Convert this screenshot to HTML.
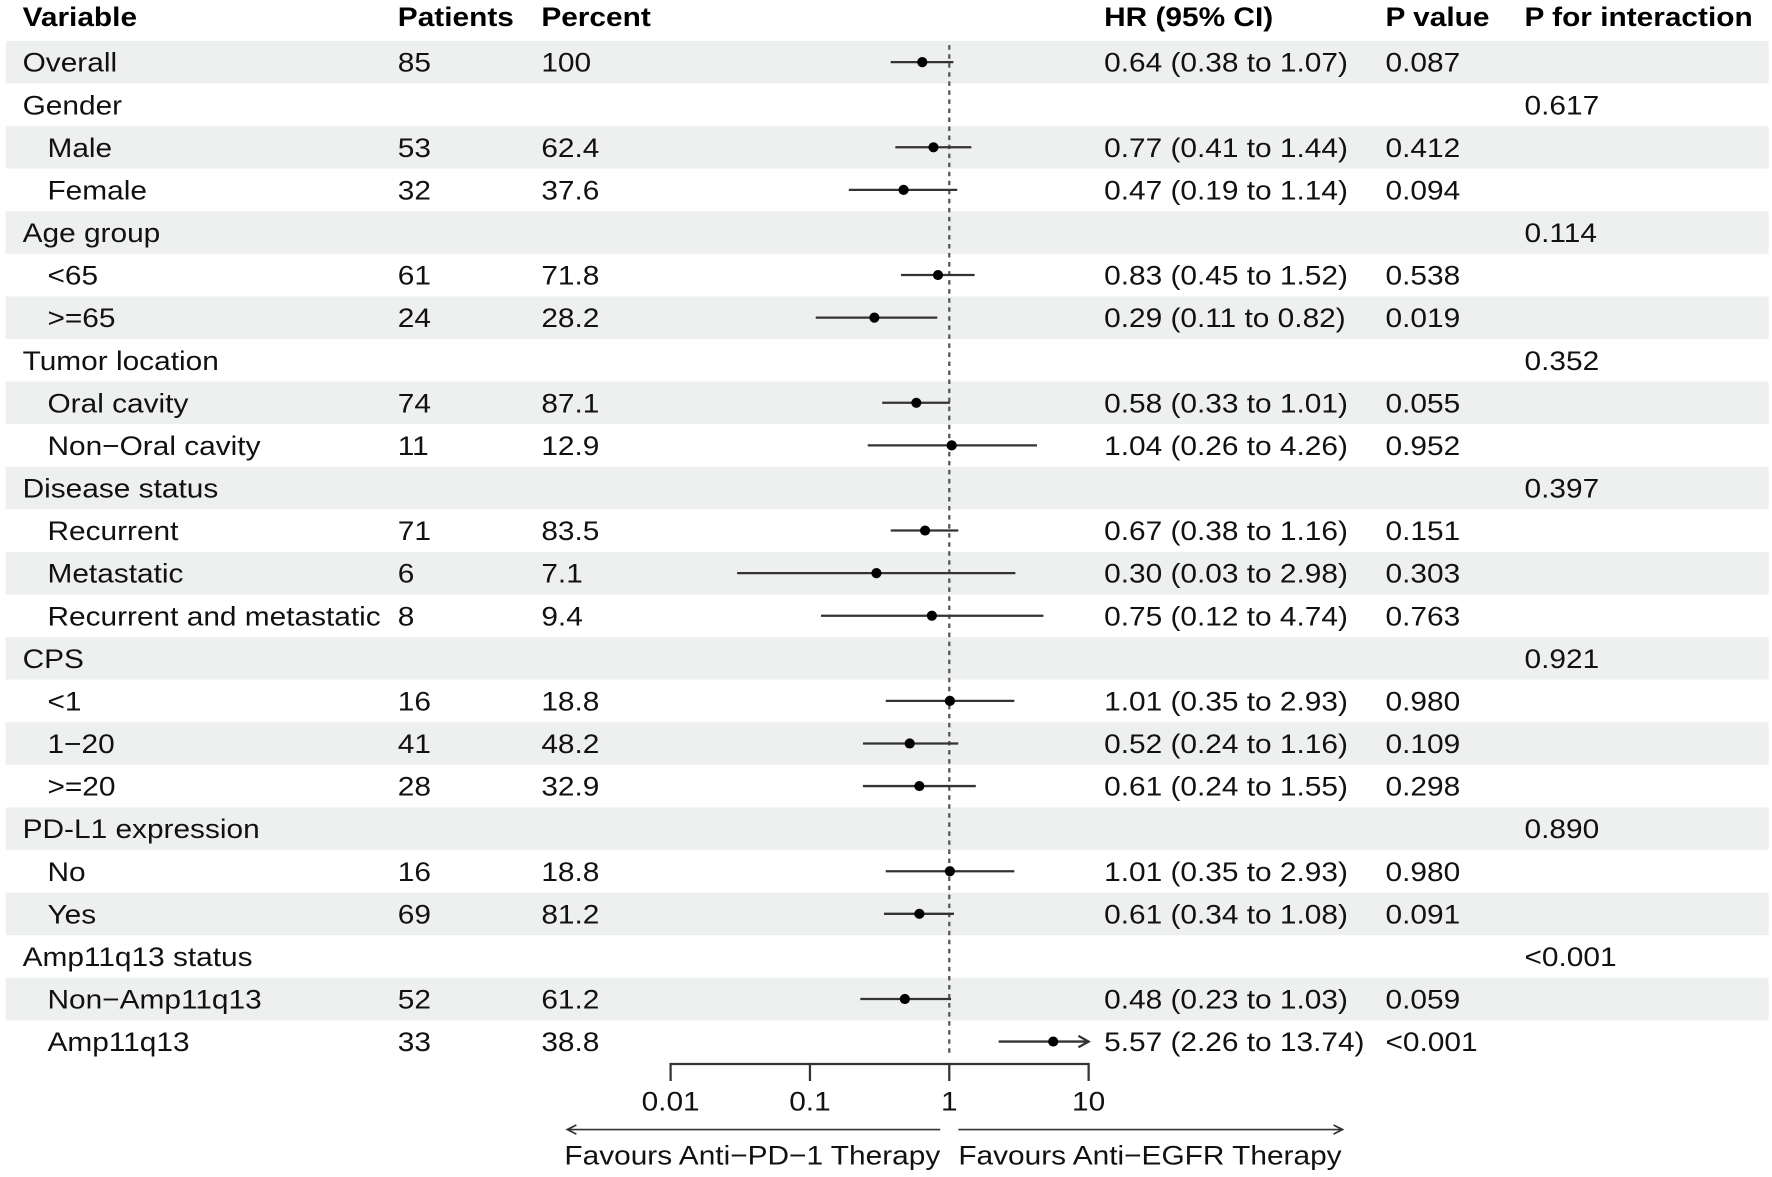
<!DOCTYPE html>
<html><head><meta charset="utf-8"><style>
html,body{margin:0;padding:0;background:#fff;}
svg{display:block;font-family:"Liberation Sans",Arial,sans-serif;}
</style></head><body>
<svg id="chart" width="1772" height="1177" viewBox="0 0 1568 1042" preserveAspectRatio="none" xmlns="http://www.w3.org/2000/svg">
<g id="bands"></g>
<g id="header" font-weight="bold" font-size="24" fill="#000">
<text transform="translate(20,23) scale(1.1,1)">Variable</text>
<text transform="translate(352,23) scale(1.1,1)">Patients</text>
<text transform="translate(479,23) scale(1.1,1)">Percent</text>
<text transform="translate(977,23) scale(1.1,1)">HR (95% CI)</text>
<text transform="translate(1226,23) scale(1.1,1)">P value</text>
<text transform="translate(1349,23) scale(1.1,1)">P for interaction</text>
</g>
<g id="rows" font-size="24" fill="#111"></g>
<g id="marks"></g>
<g id="axis"></g>
</svg>
<script>
const labels=["Overall","Gender","Male","Female","Age group","<65",">=65","Tumor location","Oral cavity","Non\u2212Oral cavity","Disease status","Recurrent","Metastatic","Recurrent and metastatic","CPS","<1","1\u221220",">=20","PD-L1 expression","No","Yes","Amp11q13 status","Non\u2212Amp11q13","Amp11q13"];
const indent=[0,0,1,1,0,1,1,0,1,1,0,1,1,1,0,1,1,1,0,1,1,0,1,1];
const patients=["85","","53","32","","61","24","","74","11","","71","6","8","","16","41","28","","16","69","","52","33"];
const percent=["100","","62.4","37.6","","71.8","28.2","","87.1","12.9","","83.5","7.1","9.4","","18.8","48.2","32.9","","18.8","81.2","","61.2","38.8"];
const hr=[0.64,null,0.77,0.47,null,0.83,0.29,null,0.58,1.04,null,0.67,0.30,0.75,null,1.01,0.52,0.61,null,1.01,0.61,null,0.48,5.57];
const lo=[0.38,null,0.41,0.19,null,0.45,0.11,null,0.33,0.26,null,0.38,0.03,0.12,null,0.35,0.24,0.24,null,0.35,0.34,null,0.23,2.26];
const hi=[1.07,null,1.44,1.14,null,1.52,0.82,null,1.01,4.26,null,1.16,2.98,4.74,null,2.93,1.16,1.55,null,2.93,1.08,null,1.03,13.74];
const hrText=["0.64 (0.38 to 1.07)","","0.77 (0.41 to 1.44)","0.47 (0.19 to 1.14)","","0.83 (0.45 to 1.52)","0.29 (0.11 to 0.82)","","0.58 (0.33 to 1.01)","1.04 (0.26 to 4.26)","","0.67 (0.38 to 1.16)","0.30 (0.03 to 2.98)","0.75 (0.12 to 4.74)","","1.01 (0.35 to 2.93)","0.52 (0.24 to 1.16)","0.61 (0.24 to 1.55)","","1.01 (0.35 to 2.93)","0.61 (0.34 to 1.08)","","0.48 (0.23 to 1.03)","5.57 (2.26 to 13.74)"];
const pval=["0.087","","0.412","0.094","","0.538","0.019","","0.055","0.952","","0.151","0.303","0.763","","0.980","0.109","0.298","","0.980","0.091","","0.059","<0.001"];
const pint=["","0.617","","","0.114","","","0.352","","","0.397","","","","0.921","","","","0.890","","","<0.001","",""];
const ticks=[0.01,0.1,1,10];
const tickLabels=["0.01","0.1","1","10"];

const NS="http://www.w3.org/2000/svg";
const X0=840, DEC=123.3, XMIN=0.01, XMAX=10;
function xs(v){return X0+Math.log10(v)*DEC;}
function ys(i){return 55+i*37.7;}
function mk(tag,attrs,parent,text){const e=document.createElementNS(NS,tag);for(const k in attrs)e.setAttribute(k,attrs[k]);if(text!==undefined)e.textContent=text;parent.appendChild(e);return e;}
function tx(x,y,parent,text,anchor){return mk('text',{transform:`translate(${x},${y}) scale(1.1,1)`,'text-anchor':anchor||'start'},parent,text);}
const bands=document.getElementById('bands'),rows=document.getElementById('rows'),marks=document.getElementById('marks'),axis=document.getElementById('axis');
labels.forEach((l,i)=>{
  const y=ys(i);
  if(i%2===0){const b=mk('rect',{x:5,y:y-18.8,width:1560,height:37.7,fill:'#eef0ef'},bands);
    
    }
  const cols=[[indent[i]?42:20,l,'variable'],[352,patients[i],'patients'],[479,percent[i],'percent'],[977,hrText[i],'hr-ci'],[1226,pval[i],'p-value'],[1349,pint[i],'p-interaction']];
  cols.forEach(c=>{if(!c[1])return;const t=tx(c[0],y+8.5,rows,c[1]);
    
    });
});
const ref=mk('line',{x1:X0,x2:X0,y1:40,y2:935,stroke:'#555','stroke-width':2,'stroke-dasharray':'4,4'},marks);


hr.forEach((h,i)=>{
  if(h===null)return;
  const y=ys(i);
  const clip=hi[i]>XMAX;
  const x2=xs(Math.min(hi[i],XMAX));
  const ln=mk('line',{x1:xs(Math.max(lo[i],XMIN)),x2:x2,y1:y,y2:y,stroke:'#333','stroke-width':2},marks);
  
  
  if(clip){const a=mk('path',{d:`M${x2-9},${y-5} L${x2},${y} L${x2-9},${y+5}`,fill:'none',stroke:'#333','stroke-width':2},marks);
    
    }
  const p=mk('circle',{cx:xs(h),cy:y,r:4.5,fill:'#000'},marks);
  
  
});
const al=mk('line',{x1:xs(XMIN),x2:xs(XMAX),y1:942,y2:942,stroke:'#333','stroke-width':2},axis);


axis.setAttribute('font-size','24');
axis.setAttribute('fill','#111');
ticks.forEach((t,k)=>{
  const tk=mk('line',{x1:xs(t),x2:xs(t),y1:941,y2:957,stroke:'#333','stroke-width':2},axis);
  
  
  const tl=tx(xs(t),983,axis,tickLabels[k],'middle');
  
  
});
const arL=mk('path',{d:'M832,1000 L502,1000 M510,996 L502,1000 L510,1004',fill:'none',stroke:'#333','stroke-width':1.5},axis);


const arR=mk('path',{d:'M848,1000 L1188,1000 M1180,996 L1188,1000 L1180,1004',fill:'none',stroke:'#333','stroke-width':1.5},axis);


const fl=tx(832,1031,axis,'Favours Anti\u2212PD\u22121 Therapy','end');


const fr=tx(848,1031,axis,'Favours Anti\u2212EGFR Therapy');


</script>
</body></html>
